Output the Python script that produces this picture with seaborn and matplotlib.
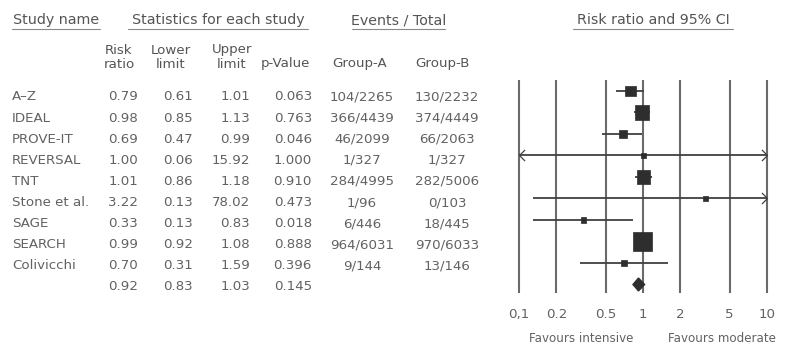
import numpy as np
import pandas as pd
import matplotlib
matplotlib.use("Agg")
import matplotlib.pyplot as plt
from matplotlib.path import Path
import seaborn as sns

# Study-level data for the meta-analysis
studies = ["A–Z", "IDEAL", "PROVE-IT", "REVERSAL", "TNT", "Stone et al.", "SAGE", "SEARCH", "Colivicchi"]
risk_ratio = [0.79, 0.98, 0.69, 1.00, 1.01, 3.22, 0.33, 0.99, 0.70]
lower_limit = [0.61, 0.85, 0.47, 0.06, 0.86, 0.13, 0.13, 0.92, 0.31]
upper_limit = [1.01, 1.13, 0.99, 15.92, 1.18, 78.02, 0.83, 1.08, 1.59]
p_values = ["0.063", "0.763", "0.046", "1.000", "0.910", "0.473", "0.018", "0.888", "0.396"]
group_a = ["104/2265", "366/4439", "46/2099", "1/327", "284/4995", "1/96", "6/446", "964/6031", "9/144"]
group_b = ["130/2232", "374/4449", "66/2063", "1/327", "282/5006", "0/103", "18/445", "970/6033", "13/146"]

# Pooled estimate
pooled_rr, pooled_lo, pooled_hi, pooled_p = 0.92, 0.83, 1.03, "0.145"

axis_ticks = [0.1, 0.2, 0.5, 1, 2, 5, 10]
axis_labels = ["0,1", "0.2", "0.5", "1", "2", "5", "10"]

W, H = 796, 361
sns.set_theme(style="white")
plt.rcParams["font.family"] = ["DejaVu Sans"]

fig = plt.figure(figsize=(W / 100, H / 100), dpi=100)
fig.patch.set_facecolor("white")

TXT = "#626262"
HDR = "#555555"


def px(x, y):
    return x / W, 1 - y / H


def put(x, y, s, size=9.6, ha="left", color=TXT, **kw):
    fx, fy = px(x, y)
    return fig.text(fx, fy, s, ha=ha, va="center", fontsize=size, color=color, **kw)


# ---- header row with underlines ----
headers = [(12, 100, "Study name"), (128, 308, "Statistics for each study"),
           (352, 445, "Events / Total"), (573, 733, "Risk ratio and 95% CI")]
for x0, x1, s in headers:
    put((x0 + x1) / 2, 20, s, size=10.3, ha="center", color=HDR)
    fx0, fy = px(x0, 29)
    fx1, _ = px(x1, 29)
    fig.add_artist(plt.Line2D([fx0, fx1], [fy, fy], color="#8a8a8a", lw=0.8))

# ---- column headers ----
col_heads = [(119, "Risk", "ratio"), (171, "Lower", "limit"), (232, "Upper", "limit")]
for x, a, b in col_heads:
    put(x, 50, a, ha="center", color=HDR)
    put(x, 64, b, ha="center", color=HDR)
put(285, 64, "p-Value", ha="center", color=HDR)
put(360, 64, "Group-A", ha="center", color=HDR)
put(442, 64, "Group-B", ha="center", color=HDR)

# ---- table body ----
row0, dy = 97, 21.1
for i, name in enumerate(studies):
    y = row0 + dy * i
    put(12, y, name)
    put(138, y, f"{risk_ratio[i]:.2f}", ha="right")
    put(193, y, f"{lower_limit[i]:.2f}", ha="right")
    put(250, y, f"{upper_limit[i]:.2f}", ha="right")
    put(312, y, p_values[i], ha="right")
    put(362, y, group_a[i], ha="center")
    put(447, y, group_b[i], ha="center")
y = row0 + dy * len(studies)
put(138, y, f"{pooled_rr:.2f}", ha="right")
put(193, y, f"{pooled_lo:.2f}", ha="right")
put(250, y, f"{pooled_hi:.2f}", ha="right")
put(312, y, pooled_p, ha="right")

# ---- forest plot axes ----
xlo, xhi = 0.08, 12.0
ppd = 124.0  # pixels per decade
left_px = 519 - (np.log10(0.1) - np.log10(xlo)) * ppd
width_px = (np.log10(xhi) - np.log10(xlo)) * ppd
top_px, bot_px = 75, 300
r0, rdy = 91, 21.5
ax = fig.add_axes([left_px / W, 1 - bot_px / H, width_px / W, (bot_px - top_px) / H])
ax.set_xscale("log")
ax.set_xlim(xlo, xhi)
ax.set_ylim((bot_px - r0) / rdy, (top_px - r0) / rdy)
for s in ax.spines.values():
    s.set_visible(False)
ax.set_facecolor("none")

ax.vlines(axis_ticks, (80 - r0) / rdy, (293 - r0) / rdy, color="#6a6a6a", lw=1.5, zorder=1)

LINE = "#404040"
left_arrow = Path([(1.0, 1.0), (0.0, 0.0), (1.0, -1.0)], [Path.MOVETO, Path.LINETO, Path.LINETO])
right_arrow = Path([(-1.0, 1.0), (0.0, 0.0), (-1.0, -1.0)], [Path.MOVETO, Path.LINETO, Path.LINETO])

df = pd.DataFrame({"study": studies, "rr": risk_ratio, "lo": lower_limit, "hi": upper_limit,
                   "row": np.arange(len(studies))})
se = (np.log(df["hi"]) - np.log(df["lo"])) / (2 * 1.96)
df["weight"] = 1 / se ** 2
side_px = np.maximum(5.0, 3.8 * df["weight"] ** 0.25)
df["msize"] = (side_px * 0.72) ** 2

for _, r in df.iterrows():
    lo_c = max(r["lo"], 0.1)
    hi_c = min(r["hi"], 10.0)
    ax.hlines(r["row"], lo_c, hi_c, color=LINE, lw=1.3, zorder=2)
    if r["lo"] < 0.1:
        ax.plot([0.1], [r["row"]], marker=left_arrow, ms=8, mfc="none", mec=LINE, mew=0.9, zorder=2)
    if r["hi"] > 10.0:
        ax.plot([10.0], [r["row"]], marker=right_arrow, ms=8, mfc="none", mec=LINE, mew=0.9, zorder=2)

sns.scatterplot(data=df, x="rr", y="row", size="msize", sizes=(df["msize"].min(), df["msize"].max()),
                marker="s", color="#2e2e2e", edgecolor="#2e2e2e", linewidth=0.5,
                legend=False, ax=ax, zorder=3)

# pooled diamond
prow = len(studies)
dh = 0.3
ax.fill([pooled_lo, pooled_rr, pooled_hi, pooled_rr], [prow, prow - dh, prow, prow + dh],
        color="#2e2e2e", zorder=3)

ax.set_xticks(axis_ticks)
ax.set_xticklabels(axis_labels)
ax.minorticks_off()
ax.tick_params(axis="x", length=0, pad=6, labelsize=9.6, labelcolor=TXT)
ax.set_yticks([])
ax.set_xlabel("")
ax.set_ylabel("")

put(581, 338, "Favours intensive", size=8.6, ha="center")
put(722, 338, "Favours moderate", size=8.6, ha="center")

fig.savefig("out.png", dpi=100, facecolor="white")
